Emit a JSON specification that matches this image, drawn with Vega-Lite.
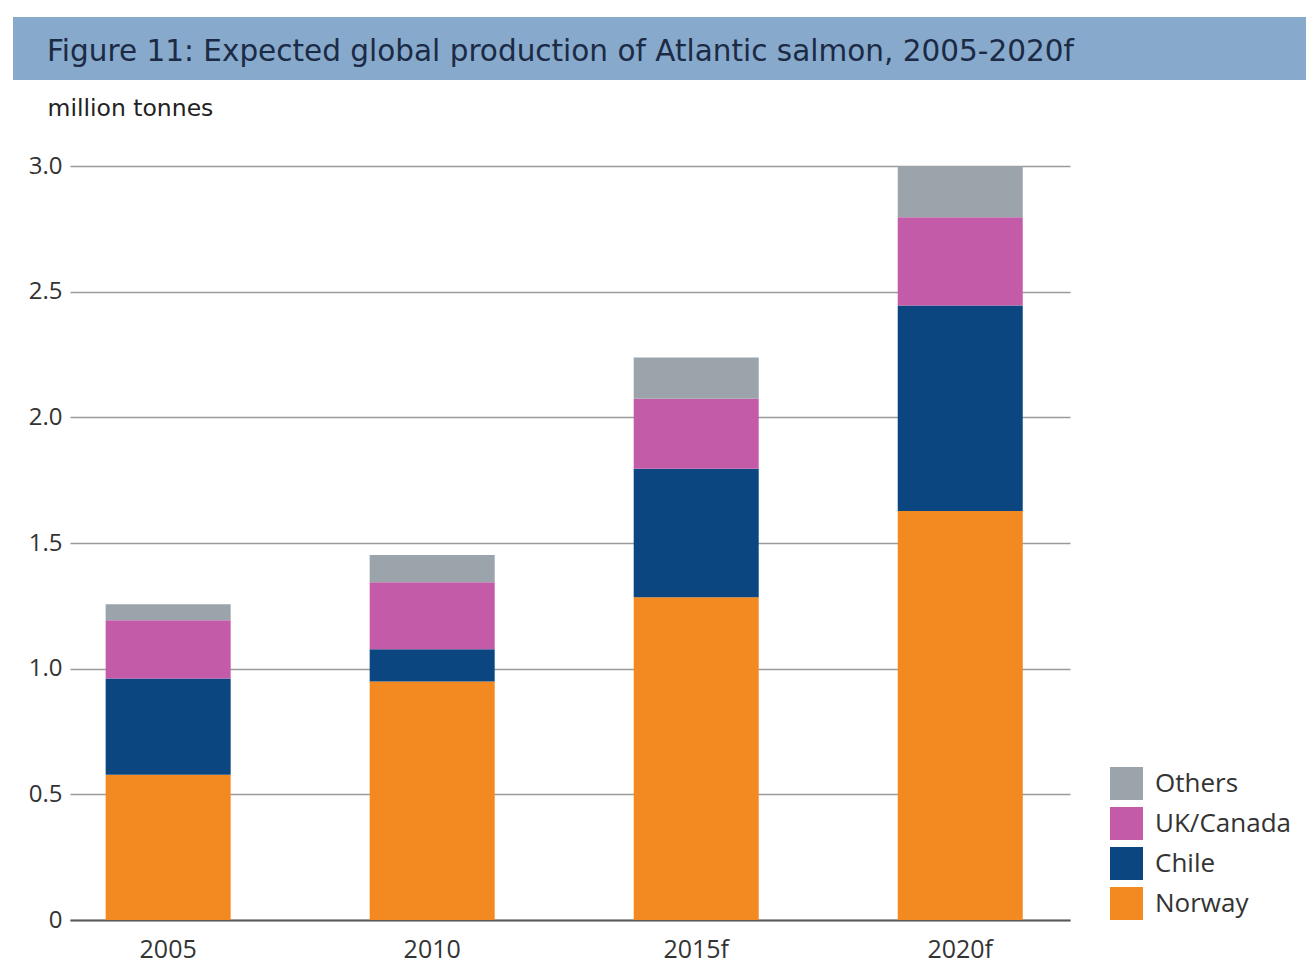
{
  "$schema": "https://vega.github.io/schema/vega-lite/v6.json",
  "background": "white",
  "padding": {"left": 13, "top": 17, "right": 0, "bottom": 6},
  "spacing": 16,
  "align": "none",
  "resolve": {"legend": {"color": "independent"}},
  "config": {"view": {"stroke": null}},
  "vconcat": [
    {
      "width": 1293,
      "height": 63,
      "data": {"values": [{"banner": "title"}]},
      "mark": {"type": "rect", "color": "#87a9cc"},
      "encoding": {},
      "title": {
        "text": "Figure 11: Expected global production of Atlantic salmon, 2005-2020f",
        "anchor": "start",
        "orient": "top",
        "frame": "group",
        "font": "DejaVu Sans",
        "fontSize": 29.5,
        "fontWeight": "normal",
        "color": "#1c2b45",
        "dx": 34,
        "dy": 50,
        "offset": 0
      }
    },
    {
      "align": "none",
      "spacing": 14,
      "resolve": {"legend": {"color": "independent"}},
      "hconcat": [
        {
          "width": 1,
          "height": 754,
          "data": {"values": []},
          "mark": {"type": "rect"},
          "encoding": {}
        },
        {
          "width": 1000,
          "height": 754,
          "data": {
            "values": [
              {"Year": "2005", "Region": "Norway", "Value": 0.578},
              {"Year": "2005", "Region": "Chile", "Value": 0.383},
              {"Year": "2005", "Region": "UK/Canada", "Value": 0.232},
              {"Year": "2005", "Region": "Others", "Value": 0.063},
              {"Year": "2010", "Region": "Norway", "Value": 0.949},
              {"Year": "2010", "Region": "Chile", "Value": 0.128},
              {"Year": "2010", "Region": "UK/Canada", "Value": 0.267},
              {"Year": "2010", "Region": "Others", "Value": 0.108},
              {"Year": "2015f", "Region": "Norway", "Value": 1.284},
              {"Year": "2015f", "Region": "Chile", "Value": 0.511},
              {"Year": "2015f", "Region": "UK/Canada", "Value": 0.279},
              {"Year": "2015f", "Region": "Others", "Value": 0.164},
              {"Year": "2020f", "Region": "Norway", "Value": 1.627},
              {"Year": "2020f", "Region": "Chile", "Value": 0.818},
              {"Year": "2020f", "Region": "UK/Canada", "Value": 0.351},
              {"Year": "2020f", "Region": "Others", "Value": 0.204}
            ]
          },
          "transform": [
            {"calculate": "indexof(['Norway', 'Chile', 'UK/Canada', 'Others'], datum.Region)", "as": "stackOrder"}
          ],
          "mark": {"type": "bar"},
          "encoding": {
            "x": {
              "field": "Year",
              "type": "ordinal",
              "sort": ["2005", "2010", "2015f", "2020f"],
              "scale": {"paddingInner": 0.5265, "paddingOuter": 0.157, "align": 0.43},
              "axis": {
                "title": null,
                "labelAngle": 0,
                "ticks": false,
                "domain": true,
                "domainColor": "#5a5a5a",
                "domainWidth": 2,
                "labelFont": "Open Sans",
                "labelFontSize": 25,
                "labelColor": "#333333",
                "labelPadding": 17
              }
            },
            "y": {
              "field": "Value",
              "type": "quantitative",
              "stack": "zero",
              "scale": {"domain": [0, 3], "nice": false},
              "axis": {
                "title": "million tonnes",
                "titleAngle": 0,
                "titleAlign": "left",
                "titleBaseline": "alphabetic",
                "titleX": -23,
                "titleY": -51,
                "titleFont": "DejaVu Sans",
                "titleFontSize": 23.5,
                "titleFontWeight": "normal",
                "titleColor": "#222222",
                "values": [0, 0.5, 1, 1.5, 2, 2.5, 3],
                "labelExpr": "datum.value == 0 ? '0' : format(datum.value, '.1f')",
                "domain": false,
                "ticks": false,
                "grid": true,
                "gridColor": "#9a9a9a",
                "gridWidth": 1.5,
                "labelFont": "Open Sans",
                "labelFontSize": 24,
                "labelColor": "#333333",
                "labelPadding": 8
              }
            },
            "order": {"field": "stackOrder", "type": "quantitative"},
            "color": {
              "field": "Region",
              "type": "nominal",
              "sort": ["Others", "UK/Canada", "Chile", "Norway"],
              "scale": {"range": ["#9ba3ab", "#c45ba8", "#0b4680", "#f38a21"]},
              "legend": {
                "title": null,
                "orient": "none",
                "legendX": 1040,
                "legendY": 601,
                "symbolType": "square",
                "symbolSize": 1089,
                "symbolStrokeWidth": 0,
                "symbolOpacity": 1,
                "labelFont": "Open Sans",
                "labelFontSize": 26,
                "labelColor": "#333333",
                "labelOffset": 12,
                "rowPadding": 7
              }
            }
          }
        }
      ]
    }
  ]
}
